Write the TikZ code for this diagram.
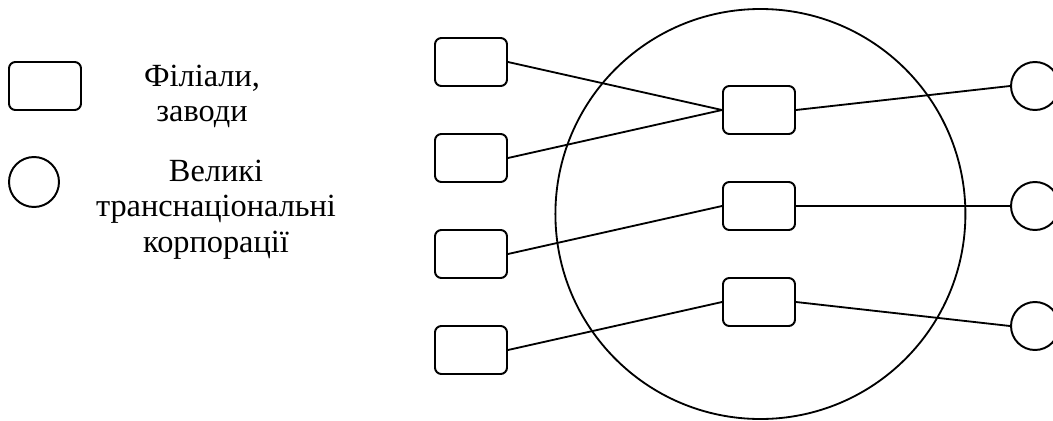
\documentclass[tikz,border=0pt]{standalone}
\usepackage{fontspec}
\setmainfont{Liberation Serif}
\usetikzlibrary{positioning}
\tikzset{
  unitbox/.style={draw=black,rounded corners=1.6mm,line width=1.4pt,
    minimum width=1.8cm,minimum height=1.2cm,inner sep=0pt},
  corpcircle/.style={draw=black,circle,line width=1.4pt,
    minimum size=1.2cm,inner sep=0pt},
  link/.style={draw=black,line width=1.3pt},
  legendtext/.style={align=center,font=\fontsize{23}{25}\selectfont},
}

\begin{document}
\begin{tikzpicture}
  \useasboundingbox (0,0) rectangle (26.325,-10.5);
  % legend
  \node[unitbox] (keybox) at (1.125,-2.15) {};
  \node[legendtext] (keyboxtext) at (5.05,-2.4) {Філіали,\\заводи};
  \node[corpcircle,minimum size=1.25cm] (keycirc) at (0.85,-4.55) {};
  \node[legendtext] (keycirctext) at (5.4,-5.24)
    {Великі\\транснаціональні\\корпорації};
  % big corporation
  \draw[line width=1.3pt] (19.01,-5.35) circle (5.125cm);
  % branches outside
  \node[unitbox] (out1) at (11.775,-1.55) {};
  \node[unitbox] (out2) at (11.775,-3.95) {};
  \node[unitbox] (out3) at (11.775,-6.35) {};
  \node[unitbox] (out4) at (11.775,-8.75) {};
  % branches inside
  \node[unitbox] (in1) at (18.975,-2.75) {};
  \node[unitbox] (in2) at (18.975,-5.15) {};
  \node[unitbox] (in3) at (18.975,-7.55) {};
  % other corporations
  \node[corpcircle] (tnc1) at (25.875,-2.15) {};
  \node[corpcircle] (tnc2) at (25.875,-5.15) {};
  \node[corpcircle] (tnc3) at (25.875,-8.15) {};
  % links
  \draw[link] (out1.east) -- (in1.west);
  \draw[link] (out2.east) -- (in1.west);
  \draw[link] (out3.east) -- (in2.west);
  \draw[link] (out4.east) -- (in3.west);
  \draw[link] (in1.east) -- (tnc1.west);
  \draw[link] (in2.east) -- (tnc2.west);
  \draw[link] (in3.east) -- (tnc3.west);
\end{tikzpicture}
\end{document}
